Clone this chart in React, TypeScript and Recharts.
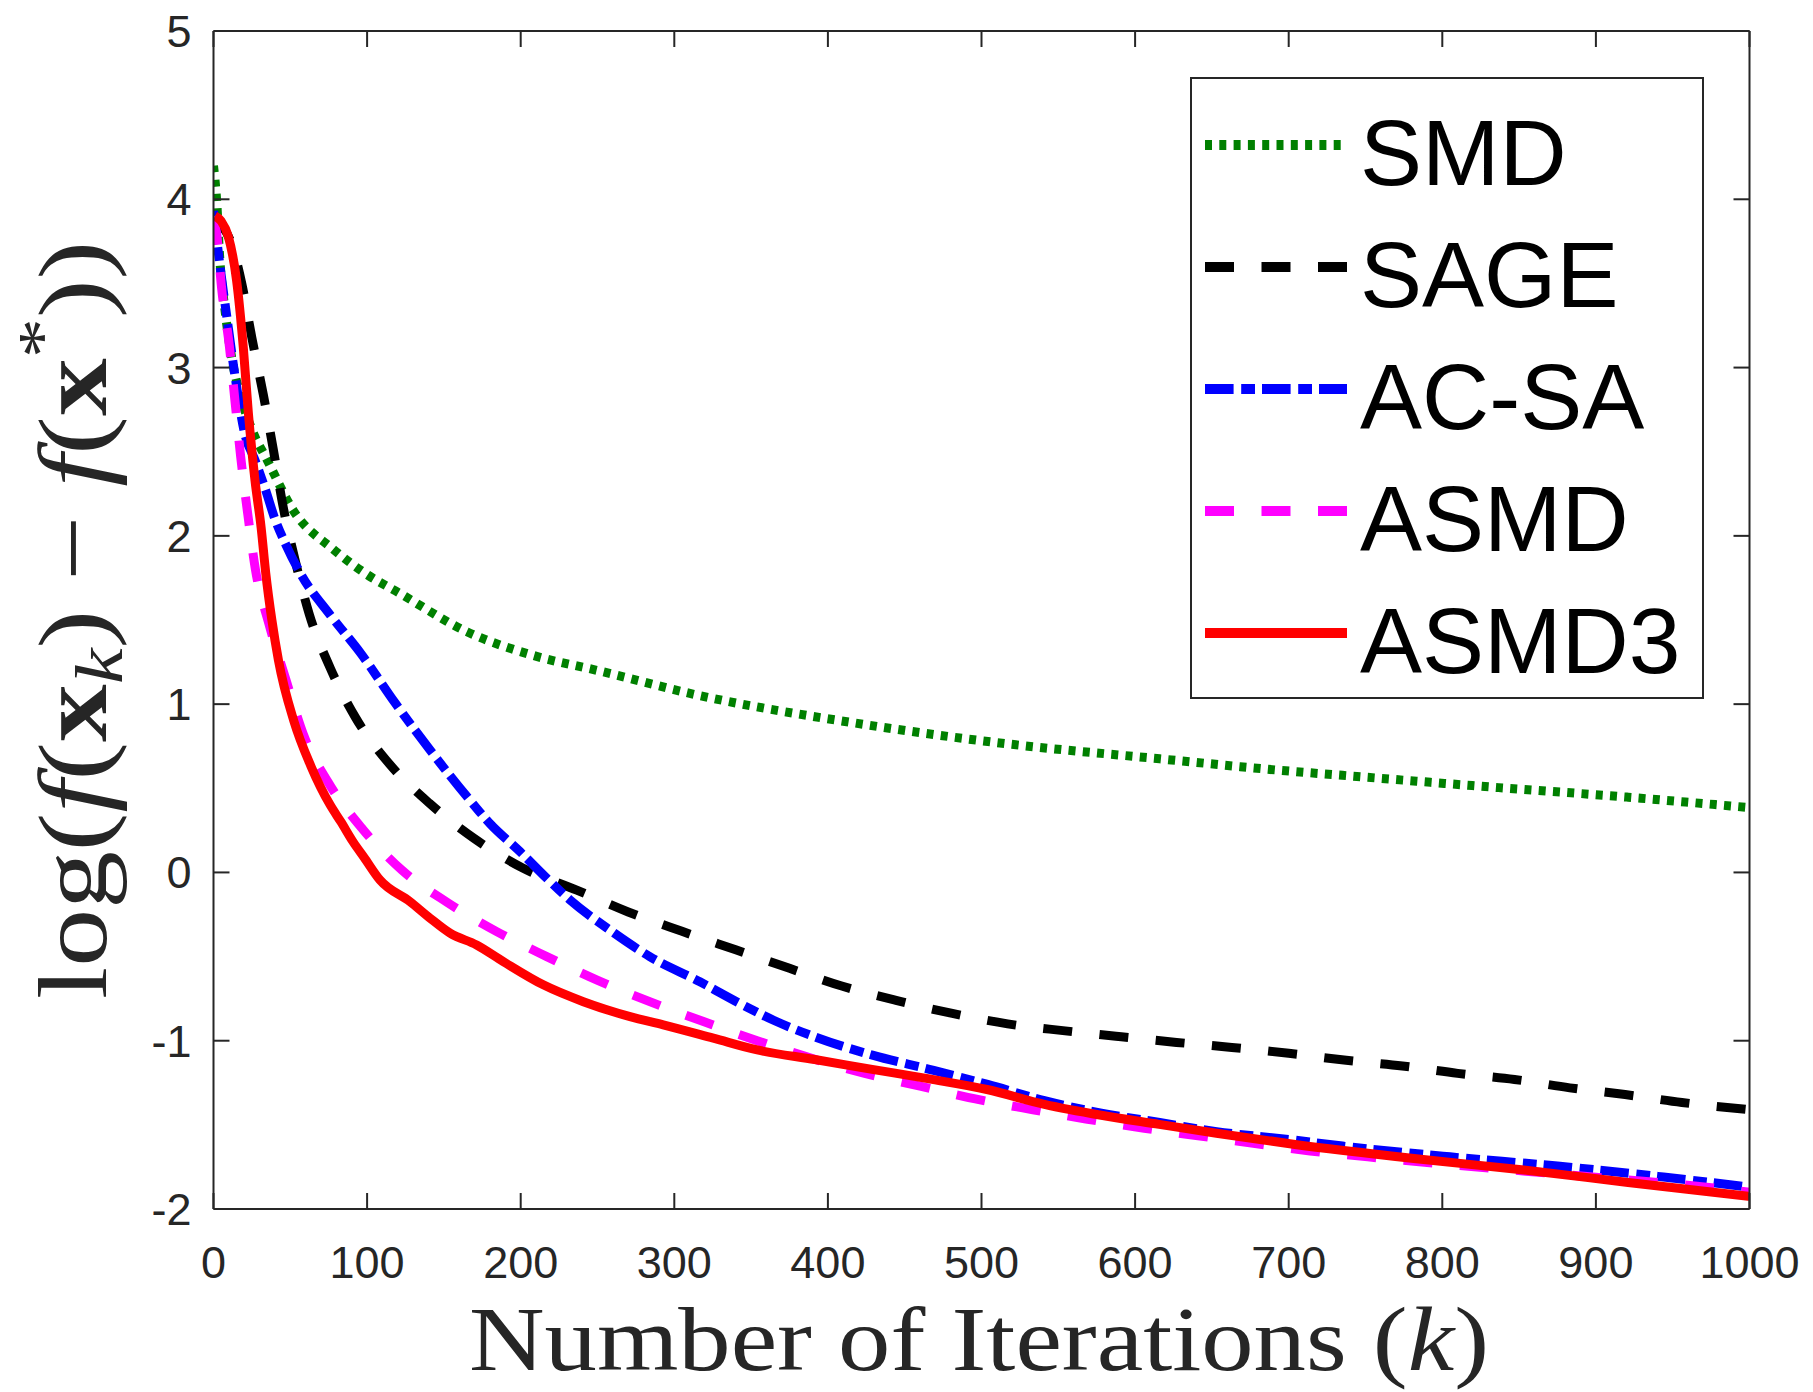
import React from "react";
import { LineChart, Line, XAxis, YAxis, Legend } from "recharts";

// values: [iteration k, log(f(x_k) - f(x*))]
const smd: [number, number][] = [
  [0, 4.2], [2, 4.0], [4, 3.66], [7.5, 3.34], [12, 3.05], [17, 2.85], [26, 2.61], [35, 2.45],
  [52, 2.15], [78, 1.92], [100, 1.77], [121, 1.66], [165, 1.43], [208, 1.29], [250, 1.2],
  [317, 1.05], [416, 0.89], [516, 0.765], [616, 0.675], [703, 0.6], [735, 0.577], [828, 0.51],
  [921, 0.447], [1000, 0.385],
];
const sage: [number, number][] = [
  [0, 3.9], [5, 3.85], [10.7, 3.76], [18.4, 3.5], [24.9, 3.18], [32.4, 2.84], [39, 2.51],
  [45.4, 2.17], [53, 1.86], [62.5, 1.53], [76, 1.215], [92.5, 0.92], [114.5, 0.645],
  [140.7, 0.41], [170, 0.2], [201, 0.028], [236.5, -0.105], [270, -0.235], [305, -0.35],
  [340, -0.46], [375, -0.57], [409, -0.675], [445, -0.762], [481, -0.838], [517, -0.9],
  [553, -0.94], [591, -0.977], [627, -1.01], [663, -1.04], [700, -1.075], [736, -1.115],
  [774, -1.15], [810, -1.194], [847, -1.23], [883, -1.28], [919, -1.32], [956, -1.367],
  [1000, -1.41],
];
const acsa: [number, number][] = [
  [0, 3.93], [4, 3.62], [9, 3.28], [14, 2.95], [20, 2.62], [27, 2.45], [34, 2.27], [40, 2.1],
  [47, 1.95], [57, 1.77], [76, 1.53], [96, 1.3], [118, 1.01], [141, 0.727], [166, 0.44],
  [180, 0.29], [199.5, 0.124], [217, -0.035], [232, -0.163], [258, -0.342], [284, -0.5],
  [316.7, -0.65], [343, -0.78], [365, -0.88], [391.5, -0.977], [429, -1.086], [466, -1.17],
  [504, -1.26], [541, -1.356], [578, -1.43], [616, -1.486], [653, -1.54], [703, -1.59],
  [735, -1.626], [805, -1.69], [875, -1.745], [944, -1.81], [1000, -1.87],
];
const asmd: [number, number][] = [
  [0, 3.9], [2, 3.8], [5.3, 3.47], [10.3, 3.13], [14, 2.8], [17.7, 2.47], [22.3, 2.13],
  [27.3, 1.8], [36, 1.48], [47, 1.15], [58.5, 0.82], [74.7, 0.535], [97.5, 0.253],
  [122.5, 0.015], [153, -0.183], [184.4, -0.352], [217, -0.5], [250.5, -0.643], [284, -0.768],
  [319, -0.886], [354, -1.0], [424, -1.194], [460, -1.27], [496, -1.346], [533.5, -1.41],
  [568, -1.465], [606, -1.52], [641, -1.565], [677, -1.61], [714, -1.655], [751.5, -1.69],
  [898, -1.81], [972, -1.87], [1000, -1.9],
];
const asmd3: [number, number][] = [
  [1, 3.9], [5, 3.87], [9.6, 3.78], [15, 3.52], [19.4, 3.12], [22.7, 2.73], [27, 2.33],
  [31, 2.05], [34, 1.78], [38, 1.5], [42.3, 1.26], [52.3, 0.9], [63.5, 0.63], [76, 0.4],
  [83, 0.3], [91, 0.18], [98, 0.09], [108.4, -0.045], [128, -0.174], [141, -0.272],
  [154, -0.361], [171.3, -0.431], [188.7, -0.53], [214.7, -0.668], [240.8, -0.768],
  [271.2, -0.857], [292.8, -0.906], [325.4, -0.985], [354, -1.055], [391.5, -1.112],
  [428.8, -1.17], [466, -1.227], [503.6, -1.29], [541, -1.378], [578, -1.443],
  [615.7, -1.497], [653, -1.55], [703, -1.615], [781.5, -1.7], [851.5, -1.767],
  [921, -1.842], [1000, -1.925],
];

const xTicks = [0, 100, 200, 300, 400, 500, 600, 700, 800, 900, 1000];
const yTicks = [-2, -1, 0, 1, 2, 3, 4, 5];

const series = [
  { name: "SMD", pts: smd, color: "#008000", dash: "7 7.3" },
  { name: "SAGE", pts: sage, color: "#000000", dash: "29 27.5" },
  { name: "AC-SA", pts: acsa, color: "#0000ff", dash: "28.6 7.6 13.8 7" },
  { name: "ASMD", pts: asmd, color: "#ff00ff", dash: "29 27.5" },
  { name: "ASMD3", pts: asmd3, color: "#ff0000", dash: undefined as string | undefined },
];

const AXIS = "#262626";
const SANS = "'Liberation Sans', Arial, Helvetica, sans-serif";
const SERIF = "'Liberation Serif', 'Times New Roman', serif";
const TICK_LEN = 16;
const LW = 9;

const toPoints = (pairs: [number, number][]) => pairs.map(([k, v]) => ({ k, v }));

const BottomTick = ({ x, y, payload }: any) => (
  <g>
    <line x1={x} y1={y} x2={x} y2={y - TICK_LEN} stroke={AXIS} strokeWidth={2} />
    <text x={x} y={y + 69} textAnchor="middle" fontFamily={SANS} fontSize={45} fill={AXIS}>
      {payload.value}
    </text>
  </g>
);
const TopTick = ({ x, y }: any) => (
  <line x1={x} y1={y} x2={x} y2={y + TICK_LEN} stroke={AXIS} strokeWidth={2} />
);
const LeftTick = ({ x, y, payload }: any) => (
  <g>
    <line x1={x} y1={y} x2={x + TICK_LEN} y2={y} stroke={AXIS} strokeWidth={2} />
    <text x={x - 22} y={y + 16} textAnchor="end" fontFamily={SANS} fontSize={45} fill={AXIS}>
      {payload.value}
    </text>
  </g>
);
const RightTick = ({ x, y }: any) => (
  <line x1={x} y1={y} x2={x - TICK_LEN} y2={y} stroke={AXIS} strokeWidth={2} />
);

const XTitle = ({ viewBox }: any) => (
  <text x={469} y={viewBox.y + 161} textAnchor="start" fontFamily={SERIF} fontSize={92}
    fill={AXIS} textLength={1020} lengthAdjust="spacingAndGlyphs">
    Number of Iterations (<tspan fontStyle="italic">k</tspan>)
  </text>
);

const YTitle = () => {
  const cx = 106;
  const cy = 620;
  return (
    <text x={cx} y={cy} transform={`rotate(-90, ${cx}, ${cy})`} textAnchor="middle"
      fontFamily={SERIF} fontSize={98} fill={AXIS} textLength={758}
      lengthAdjust="spacingAndGlyphs">
      log(<tspan fontStyle="italic">f</tspan>(<tspan fontWeight="bold">x</tspan>
      <tspan fontStyle="italic" fontSize={68} dy={16}>k</tspan>
      <tspan dy={-16}>) − </tspan>
      <tspan fontStyle="italic">f</tspan>(<tspan fontWeight="bold">x</tspan>
      <tspan fontSize={68} dy={-42}>*</tspan>
      <tspan dy={42}>))</tspan>
    </text>
  );
};

const LegendBox = () => (
  <div style={{ width: 514, height: 622, border: `2px solid ${AXIS}`, boxSizing: "border-box", background: "#fff" }}>
    <svg width={510} height={618}>
      {series.map((s, i) => {
        const cy = 66 + i * 122;
        return (
          <g key={s.name}>
            <line x1={13} x2={155} y1={cy} y2={cy} stroke={s.color} strokeWidth={10}
              strokeDasharray={s.dash} />
            <text x={168} y={cy + 40} fontFamily={SANS} fontSize={93} fill="#000">{s.name}</text>
          </g>
        );
      })}
    </svg>
  </div>
);

export default function App() {
  return (
    <div style={{ position: "absolute", left: 0, top: 0, background: "#fff" }}>
      <LineChart width={1813} height={1392}
        margin={{ top: 30, right: 62.5, bottom: 182, left: 212.5 }}>
        <XAxis dataKey="k" type="number" domain={[0, 1000]} ticks={xTicks} allowDataOverflow
          height={1} tickSize={0} tickMargin={0} tickLine={false} tick={<BottomTick />}
          axisLine={{ stroke: AXIS, strokeWidth: 2 }} label={<XTitle />} interval={0} />
        <XAxis xAxisId="top" orientation="top" dataKey="k" type="number" domain={[0, 1000]}
          ticks={xTicks} allowDataOverflow height={1} tickSize={0} tickMargin={0} tickLine={false}
          tick={<TopTick />} axisLine={{ stroke: AXIS, strokeWidth: 2 }} interval={0} />
        <YAxis type="number" domain={[-2, 5]} ticks={yTicks} allowDataOverflow width={1}
          tickSize={0} tickMargin={0} tickLine={false} tick={<LeftTick />}
          axisLine={{ stroke: AXIS, strokeWidth: 2 }} label={<YTitle />} interval={0} />
        <YAxis yAxisId="right" orientation="right" type="number" domain={[-2, 5]} ticks={yTicks}
          allowDataOverflow width={1} tickSize={0} tickMargin={0} tickLine={false}
          tick={<RightTick />} axisLine={{ stroke: AXIS, strokeWidth: 2 }} interval={0} />
        {series.map((s) => (
          <Line key={s.name} data={toPoints(s.pts)} dataKey="v" name={s.name} type="monotone"
            stroke={s.color} strokeWidth={LW} strokeDasharray={s.dash} dot={false}
            activeDot={false} isAnimationActive={false} strokeLinecap="butt" />
        ))}
        <Legend layout="vertical" align="center" verticalAlign="middle"
          wrapperStyle={{ position: "absolute", left: 1190, top: 77, width: 514, height: 622 }}
          content={() => <LegendBox />} />
      </LineChart>
    </div>
  );
}
